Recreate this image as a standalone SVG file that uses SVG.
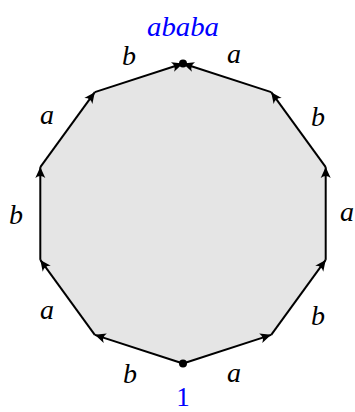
<svg xmlns="http://www.w3.org/2000/svg" width="355" height="412" viewBox="0 0 355 412">
<style>
.lbl{font-family:"Liberation Serif","Times New Roman",serif;font-style:italic;font-size:28px;fill:#000;text-anchor:middle}
.blue{fill:#0000ff}
.edge{stroke:#000;stroke-width:2;fill:none;marker-end:url(#arr)}
</style>
<defs>
<marker id="arr" markerUnits="userSpaceOnUse" markerWidth="14" markerHeight="12" viewBox="-12 -6 14 12" refX="0" refY="0" orient="auto">
<path d="M0,0 L-11,-5 Q-7,0 -11,5 Z" fill="#000"/>
</marker>
</defs>
<g id="face">
<polygon points="183,363.5 271.2,334.85 325.7,259.9 325.7,167.1 271.2,92.15 183,63.5 94.8,92.15 40.3,167.1 40.3,259.9 94.8,334.85" fill="#e5e5e5" stroke="none"/>
</g>
<g id="connectors">
<line class="edge" x1="183" y1="363.5" x2="271.2" y2="334.85"/>
<line class="edge" x1="271.2" y1="334.85" x2="325.7" y2="259.9"/>
<line class="edge" x1="325.7" y1="259.9" x2="325.7" y2="167.1"/>
<line class="edge" x1="325.7" y1="167.1" x2="271.2" y2="92.15"/>
<line class="edge" x1="271.2" y1="92.15" x2="183" y2="63.5"/>
<line class="edge" x1="183" y1="363.5" x2="94.8" y2="334.85"/>
<line class="edge" x1="94.8" y1="334.85" x2="40.3" y2="259.9"/>
<line class="edge" x1="40.3" y1="259.9" x2="40.3" y2="167.1"/>
<line class="edge" x1="40.3" y1="167.1" x2="94.8" y2="92.15"/>
<line class="edge" x1="94.8" y1="92.15" x2="183" y2="63.5"/>
</g>
<g id="labels">
<text class="lbl" x="234" y="382">a</text>
<text class="lbl" x="318" y="325">b</text>
<text class="lbl" x="347" y="221">a</text>
<text class="lbl" x="318" y="126">b</text>
<text class="lbl" x="234" y="63">a</text>
<text class="lbl" x="130" y="383">b</text>
<text class="lbl" x="47" y="319">a</text>
<text class="lbl" x="16" y="224">b</text>
<text class="lbl" x="47" y="124">a</text>
<text class="lbl" x="129" y="65">b</text>
</g>
<g id="top">
<circle cx="183" cy="63.5" r="4" fill="#000"/>
<text class="lbl blue" x="183" y="36" textLength="72" lengthAdjust="spacingAndGlyphs">ababa</text>
</g>
<g id="bottom">
<circle cx="183" cy="363.5" r="4" fill="#000"/>
<text x="183" y="406" font-family="Liberation Serif, Times New Roman, serif" font-size="27" fill="#0000ff" text-anchor="middle">1</text>
</g>
</svg>
